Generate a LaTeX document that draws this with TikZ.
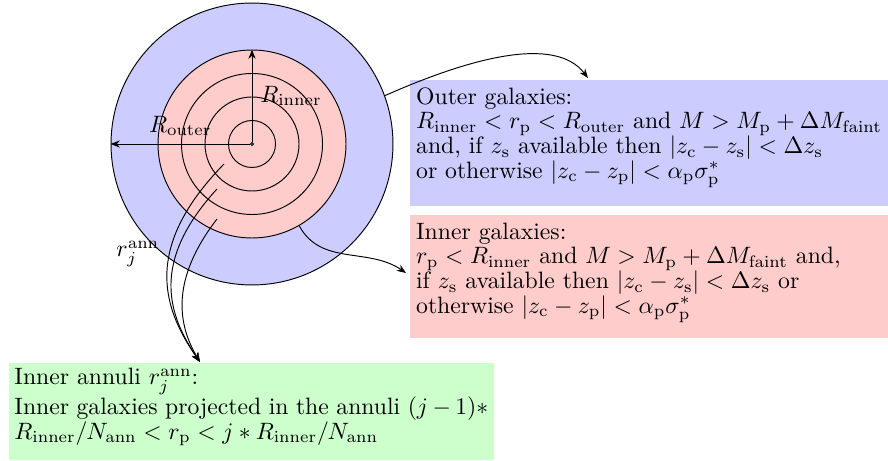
\documentclass[tikz,border=0pt]{standalone}
\usetikzlibrary{arrows.meta}
\begin{document}
\begin{tikzpicture}[x=0.4221pt, y=-0.4221pt,
  ring/.style={circle, draw, inner sep=0pt},
  arr/.style={-{Stealth[length=3.9pt,width=3pt]}},
  box/.style={anchor=base west, inner xsep=2.4pt, inner ysep=0pt, align=justify,
              font=\fontsize{10pt}{10.4pt}\selectfont},
]
\useasboundingbox (0,0) rectangle (888,461);
% circles
\node[ring, fill=blue!20, minimum size=119.0pt] (outer) at (252,144) {};
\node[ring, fill=red!20, minimum size=79.35pt] (inner) at (252,144) {};
\node[ring, minimum size=59.52pt] (a3) at (252,144) {};
\node[ring, minimum size=39.68pt] (a2) at (252,144) {};
\node[ring, minimum size=19.84pt] (a1) at (252,144) {};
\node[circle, draw, inner sep=0pt, minimum size=1.3pt] (c) at (252,144) {};
% radii
\draw[arr] (c) -- node[right]{$R_{\mathrm{inner}}$} (inner.north);
\draw[arr] (c) -- node[above]{$R_{\mathrm{outer}}$} (outer.west);
% boxes
\node[box, fill=blue!20, text width=198.4pt, text height=10.26pt, text depth=42.9pt] (obox) at (410,104.3)
 {Outer galaxies:\\
  $R_{\mathrm{inner}} < r_{\mathrm{p}} < R_{\mathrm{outer}}$ and $M > M_{\mathrm{p}} + \Delta M_{\mathrm{faint}}$\\
  and, if $z_{\mathrm{s}}$ available then $|z_{\mathrm{c}} - z_{\mathrm{s}}| < \Delta z_{\mathrm{s}}$\\
  or otherwise $|z_{\mathrm{c}} - z_{\mathrm{p}}| < \alpha_{\mathrm{p}}\sigma_{\mathrm{p}}^*$};
\node[box, fill=red!20, text width=198.4pt, text height=10.26pt, text depth=41.66pt] (ibox) at (410,239.3)
 {Inner galaxies:\\
  $r_{\mathrm{p}} < R_{\mathrm{inner}}$ and $M > M_{\mathrm{p}} + \Delta M_{\mathrm{faint}}$ and,\\
  if $z_{\mathrm{s}}$ available then $|z_{\mathrm{c}} - z_{\mathrm{s}}| < \Delta z_{\mathrm{s}}$ or\\
  otherwise $|z_{\mathrm{c}} - z_{\mathrm{p}}| < \alpha_{\mathrm{p}}\sigma_{\mathrm{p}}^*$};
\node[box, fill=green!20, text width=200pt, text height=9.16pt, text depth=31.66pt] (gbox) at (8.3,385)
 {Inner annuli $r_j^{\mathrm{ann}}$:\\
  Inner galaxies projected in the annuli $(j-1)*$\linebreak
  $R_{\mathrm{inner}}/N_{\mathrm{ann}} < r_{\mathrm{p}} < j*R_{\mathrm{inner}}/N_{\mathrm{ann}}$};
% label
\node[anchor=base west, inner sep=0pt] (rl) at (116,257) {$r_j^{\mathrm{ann}}$};
% arrow targets and starts
\coordinate (ot) at (588,78);
\coordinate (it) at (406,273);
\coordinate (gt) at (200,362);
\coordinate (p1) at (224,164);
\coordinate (p2) at (217,189);
\coordinate (p3) at (217,219);
% connectors
\draw[arr] (outer.20) .. controls (470,58) and (555,35) .. (ot);
\draw[arr] (inner.-60) .. controls (321,266) and (368,247) .. (it);
\draw[arr] (p1) .. controls (145,245) and (160,305) .. (gt);
\draw[arr] (p2) .. controls (150,262) and (168,315) .. (gt);
\draw[arr] (p3) .. controls (170,280) and (178,325) .. (gt);
\end{tikzpicture}
\end{document}
